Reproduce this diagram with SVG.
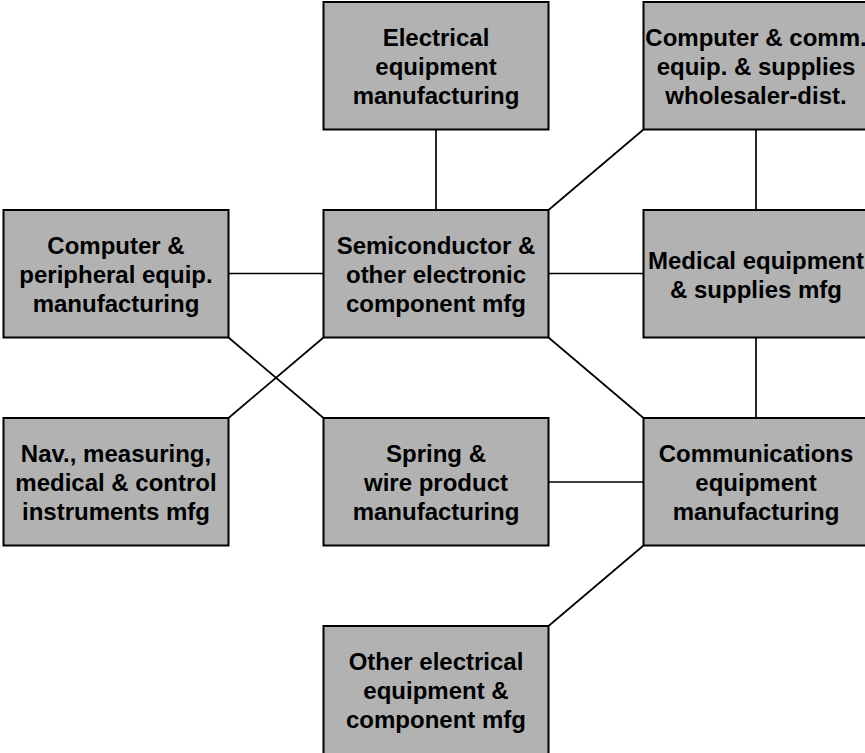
<svg xmlns="http://www.w3.org/2000/svg" width="865" height="753" viewBox="0 0 865 753">
  <style>
    .box rect { fill: #b2b2b2; stroke: #000; stroke-width: 2; }
    .box text { font-family: "Liberation Sans", Arial, sans-serif; font-weight: bold; font-size: 24px; fill: #000; text-anchor: middle; }
    #connectors line { stroke: #000; stroke-width: 1.7; }
  </style>
  <rect width="865" height="753" fill="#fff"/>

  <!-- connectors between industry boxes -->
  <g id="connectors">
    <line x1="436" y1="129.5" x2="436" y2="210"/>
    <line x1="643.5" y1="129.5" x2="548.5" y2="210"/>
    <line x1="756" y1="129.5" x2="756" y2="210"/>
    <line x1="228.5" y1="273.5" x2="323.5" y2="273.5"/>
    <line x1="548.5" y1="273.5" x2="643.5" y2="273.5"/>
    <line x1="228.5" y1="337.5" x2="323.5" y2="418"/>
    <line x1="323.5" y1="337.5" x2="228.5" y2="418"/>
    <line x1="548.5" y1="337.5" x2="643.5" y2="418"/>
    <line x1="756" y1="337.5" x2="756" y2="418"/>
    <line x1="548.5" y1="482" x2="643.5" y2="482"/>
    <line x1="643.5" y1="545.5" x2="548.5" y2="626"/>
  </g>

  <!-- row 1 -->
  <g id="electrical" class="box">
    <rect x="323.5" y="2" width="225" height="127.5"/>
    <text x="436" y="46">Electrical</text>
    <text x="436" y="75">equipment</text>
    <text x="436" y="104">manufacturing</text>
  </g>
  <g id="wholesale" class="box">
    <rect x="643.5" y="2" width="225" height="127.5"/>
    <text x="756" y="46">Computer &amp; comm.</text>
    <text x="756" y="75">equip. &amp; supplies</text>
    <text x="756" y="104">wholesaler-dist.</text>
  </g>

  <!-- row 2 -->
  <g id="computer" class="box">
    <rect x="3.5" y="210" width="225" height="127.5"/>
    <text x="116" y="254">Computer &amp;</text>
    <text x="116" y="283">peripheral equip.</text>
    <text x="116" y="312">manufacturing</text>
  </g>
  <g id="semiconductor" class="box">
    <rect x="323.5" y="210" width="225" height="127.5"/>
    <text x="436" y="254">Semiconductor &amp;</text>
    <text x="436" y="283">other electronic</text>
    <text x="436" y="312">component mfg</text>
  </g>
  <g id="medical" class="box">
    <rect x="643.5" y="210" width="225" height="127.5"/>
    <text x="756" y="268.5">Medical equipment</text>
    <text x="756" y="297.5">&amp; supplies mfg</text>
  </g>

  <!-- row 3 -->
  <g id="navigation" class="box">
    <rect x="3.5" y="418" width="225" height="127.5"/>
    <text x="116" y="462">Nav., measuring,</text>
    <text x="116" y="491">medical &amp; control</text>
    <text x="116" y="520">instruments mfg</text>
  </g>
  <g id="spring" class="box">
    <rect x="323.5" y="418" width="225" height="127.5"/>
    <text x="436" y="462">Spring &amp;</text>
    <text x="436" y="491">wire product</text>
    <text x="436" y="520">manufacturing</text>
  </g>
  <g id="communications" class="box">
    <rect x="643.5" y="418" width="225" height="127.5"/>
    <text x="756" y="462">Communications</text>
    <text x="756" y="491">equipment</text>
    <text x="756" y="520">manufacturing</text>
  </g>

  <!-- row 4 -->
  <g id="other-electrical" class="box">
    <rect x="323.5" y="626" width="225" height="130"/>
    <text x="436" y="670">Other electrical</text>
    <text x="436" y="699">equipment &amp;</text>
    <text x="436" y="728">component mfg</text>
  </g>
</svg>
